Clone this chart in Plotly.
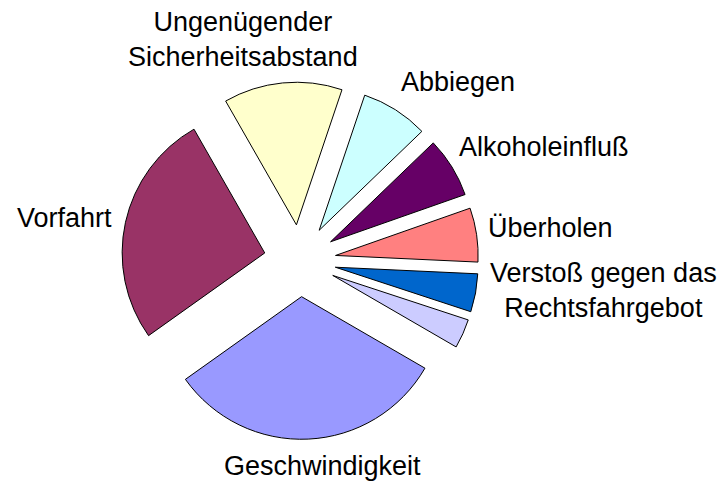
import plotly.graph_objects as go

# Data (percent shares, clockwise from Geschwindigkeit)
labels = ["Geschwindigkeit", "Vorfahrt", "Ungenügender Sicherheitsabstand", "Abbiegen",
          "Alkoholeinfluß", "Überholen", "Verstoß gegen das Rechtsfahrgebot", "Sonstige"]
values = [31.7, 26.5, 13.4, 7.6, 6.8, 6.1, 4.3, 3.3]
colors = ["#9999FF", "#993366", "#FFFFCC", "#CCFFFF", "#660066", "#FF8080", "#0066CC", "#CCCCFF"]
label_texts = ["Geschwindigkeit", "Vorfahrt", "Ungenügender<br>Sicherheitsabstand", "Abbiegen",
               "Alkoholeinfluß", "Überholen", "Verstoß gegen das<br>Rechtsfahrgebot", None]
# label anchor positions in window pixels (x center, y center)
label_pos = [(322.5, 466), (65, 218), (242.5, 40), (457.5, 82),
             (543.5, 146.5), (550.5, 228), (603, 290), None]

OFF = 8  # page body margin
W, H = 726 - OFF, 483 - OFF
cx, cy, r, pull = 299.9 - OFF, 260.7 - OFF, 142.6, 0.2525
half = r * (1 + pull)

fig = go.Figure(go.Pie(
    labels=labels, values=values, sort=False, direction="clockwise",
    rotation=120.1, pull=[pull] * len(values),
    marker=dict(colors=colors, line=dict(color="black", width=1)),
    textinfo="none", showlegend=False,
    domain=dict(x=[(cx - half) / W, (cx + half) / W],
                y=[1 - (cy + half) / H, 1 - (cy - half) / H]),
))

annotations = []
for t, p in zip(label_texts, label_pos):
    if t is None:
        continue
    annotations.append(dict(
        text=t, x=(p[0] - OFF) / W, y=1 - (p[1] - OFF) / H, xref="paper", yref="paper",
        xanchor="center", yanchor="middle", showarrow=False, align="center",
        borderpad=0,
        font=dict(family="Liberation Sans, Arial, sans-serif", size=27, color="black"),
    ))

fig.update_layout(
    width=W, height=H, margin=dict(l=0, r=0, t=0, b=0),
    paper_bgcolor="white", plot_bgcolor="white",
    annotations=annotations,
)

fig.write_html("out.html")
